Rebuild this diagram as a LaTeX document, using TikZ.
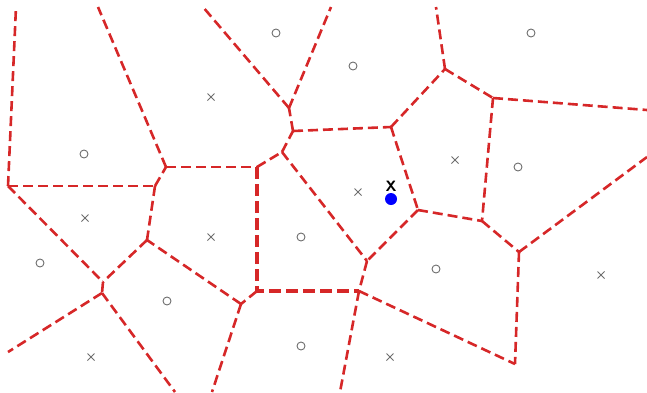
\documentclass[tikz,border=0pt]{standalone}
\usepackage{xcolor}
\usepackage{tikz}
\usetikzlibrary{positioning}
\definecolor{cellred}{RGB}{214,39,40}
\definecolor{sitegray}{RGB}{110,110,110}

\begin{document}
\begin{tikzpicture}[
  x=1pt, y=-1pt,
  edge/.style={draw=cellred, line width=2.6pt, dash pattern=on 10pt off 5pt},
  thickedge/.style={draw=cellred, line width=4pt, dash pattern=on 12pt off 5pt},
  siteo/.style={draw=sitegray, circle, line width=0.9pt, inner sep=0pt, minimum size=8pt},
  sitex/.style={draw=sitegray, line width=0.9pt},
  query/.style={fill=blue, circle, inner sep=0pt, minimum size=12pt},
]
\useasboundingbox (0,0) rectangle (647,392);
\coordinate (vA) at (8,186);
\coordinate (vB) at (155,186);
\coordinate (vC) at (166,167);
\coordinate (vD) at (257,167);
\coordinate (vE) at (282,152);
\coordinate (vF) at (293,131);
\coordinate (vG) at (289,108);
\coordinate (vH) at (391,127);
\coordinate (vI) at (445,69);
\coordinate (vJ) at (493,98);
\coordinate (vK) at (418,210);
\coordinate (vL) at (482,221);
\coordinate (vM) at (519,252);
\coordinate (vN) at (367,261);
\coordinate (vO) at (359,291);
\coordinate (vP) at (515,364);
\coordinate (vQ) at (257,291);
\coordinate (vR) at (241,304);
\coordinate (vS) at (147,240);
\coordinate (vT) at (103,282);
\coordinate (vU) at (102,293);
\coordinate (top1) at (16,7);
\coordinate (top2) at (98,7);
\coordinate (top3) at (203,7);
\coordinate (top4) at (331,7);
\coordinate (top5) at (436,7);
\coordinate (right1) at (647,110);
\coordinate (right2) at (647,157);
\coordinate (bot1) at (340,392);
\coordinate (bot2) at (212,392);
\coordinate (bot3) at (175,392);
\coordinate (left1) at (8,352);
\foreach \a/\b in {vA/vB, vA/vT, vB/vC, vB/vS, vC/vD, vD/vE, vE/vF, vE/vN, vF/vG,
                   vF/vH, vH/vI, vH/vK, vI/vJ, vJ/vL, vK/vL, vK/vN, vL/vM, vM/vP,
                   vN/vO, vO/vP, vQ/vR, vR/vS, vS/vT, vT/vU,
                   vA/top1, vC/top2, vG/top3, vG/top4, vI/top5, vJ/right1,
                   vM/right2, vO/bot1, vR/bot2, vU/bot3, vU/left1}
  \draw[edge] (\a) -- (\b);
\draw[thickedge] (vD) -- (vQ) -- (vO);
\foreach \p [count=\i] in {(276,33), (353,66), (531,33), (84,154), (518,167),
                           (301,237), (40,263), (436,269), (167,301), (301,346)}
  \node[siteo] (o\i) at \p {};
\foreach \p [count=\i] in {(211,97), (455,160), (358,192), (85,218), (211,237),
                           (601,275), (91,357), (390,357)}
  \draw[sitex] \p ++(-3.5,-3.5) -- ++(7,7) \p ++(-3.5,3.5) -- ++(7,-7);
\node[query] (q) at (391,199) {};
\node[font=\sffamily\bfseries\fontsize{15}{15}\selectfont, inner sep=0pt, above=1pt of q] (qlabel) {X};
\end{tikzpicture}
\end{document}
